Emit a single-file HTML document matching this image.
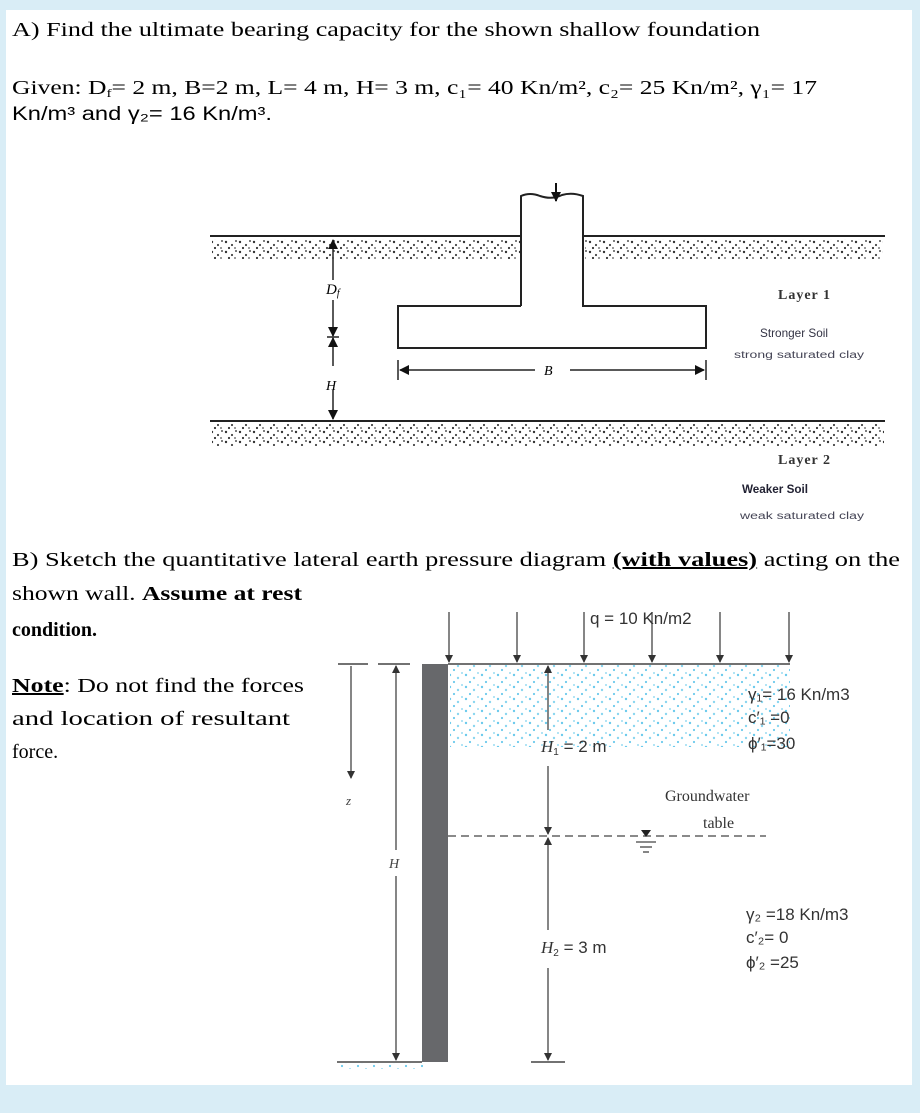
<!DOCTYPE html>
<html><head><meta charset="utf-8"><style>
html,body{margin:0;padding:0;background:#d9edf6;}
svg{display:block}
</style></head><body>
<svg width="920" height="1113" xmlns="http://www.w3.org/2000/svg" font-family="Liberation Serif, serif">
<defs>
<pattern id="st" width="14" height="10" patternUnits="userSpaceOnUse">
<circle cx="2" cy="2" r="1.2" fill="#333"/><circle cx="8" cy="5" r="1.1" fill="#444"/><circle cx="12" cy="1" r="1" fill="#555"/><circle cx="5" cy="8" r="1.1" fill="#333"/><circle cx="11" cy="8" r="0.9" fill="#555"/>
</pattern>
<pattern id="bl" width="16" height="12" patternUnits="userSpaceOnUse">
<circle cx="2" cy="3" r="1.2" fill="#6ccaec"/><circle cx="10" cy="6" r="1.2" fill="#8ad6f0"/><circle cx="6" cy="10" r="1.1" fill="#6ccaec"/><circle cx="14" cy="1" r="1" fill="#9adcf2"/>
</pattern>
<marker id="ah" markerWidth="8" markerHeight="8" refX="7" refY="4" orient="auto" markerUnits="userSpaceOnUse"><path d="M0,0 L8,4 L0,8 z" fill="#333"/></marker>
<marker id="ak" markerWidth="10" markerHeight="10" refX="9" refY="5" orient="auto" markerUnits="userSpaceOnUse"><path d="M0,0 L10,5 L0,10 z" fill="#111"/></marker>
</defs>
<rect x="6" y="10" width="906" height="1075" fill="#fff"/>
<!-- Text A -->
<text x="12" y="36" font-size="20" textLength="748" lengthAdjust="spacingAndGlyphs">A) Find the ultimate bearing capacity for the shown shallow foundation</text>
<text x="12" y="94" font-size="20" textLength="805" lengthAdjust="spacingAndGlyphs">Given: D<tspan font-size="12" dy="3">f</tspan><tspan dy="-3">= 2 m, B=2 m, L= 4 m, H= 3 m, c₁= 40 Kn/m², c₂= 25 Kn/m², γ₁= 17</tspan></text>
<text x="12" y="120" font-family="Liberation Sans, sans-serif" font-size="19" textLength="260" lengthAdjust="spacingAndGlyphs">Kn/m³ and  γ₂= 16 Kn/m³.</text>
<!-- foundation diagram -->
<g stroke="#222" stroke-width="2" fill="none">
<line x1="210" y1="236" x2="521" y2="236"/><line x1="583" y1="236" x2="885" y2="236"/>
<path d="M521,306 L521,196 Q530,192 540,196 Q552,200 562,195 Q572,192 583,196 L583,306 L706,306 L706,348 L398,348 L398,306 L521,306"/>
<line x1="210" y1="421" x2="885" y2="421"/>
</g>
<rect x="212" y="239" width="308" height="20" fill="url(#st)"/>
<rect x="585" y="239" width="298" height="20" fill="url(#st)"/>
<rect x="212" y="424" width="672" height="22" fill="url(#st)"/>
<line x1="556" y1="183" x2="556" y2="201" stroke="#111" stroke-width="2" marker-end="url(#ak)"/>
<g stroke="#222" stroke-width="1.5">
<line x1="333" y1="280" x2="333" y2="240" marker-end="url(#ak)"/>
<line x1="333" y1="300" x2="333" y2="336" marker-end="url(#ak)"/>
<line x1="327" y1="337" x2="339" y2="337"/>
<line x1="333" y1="366" x2="333" y2="338" marker-end="url(#ak)"/>
<line x1="333" y1="390" x2="333" y2="419" marker-end="url(#ak)"/>
<line x1="398" y1="360" x2="398" y2="380"/><line x1="706" y1="360" x2="706" y2="380"/>
<line x1="535" y1="370" x2="400" y2="370" marker-end="url(#ak)"/>
<line x1="570" y1="370" x2="704" y2="370" marker-end="url(#ak)"/>
</g>
<text x="326" y="294" font-size="15" font-style="italic">D<tspan font-size="10" dy="2">f</tspan></text>
<text x="326" y="390" font-size="14" font-style="italic">H</text>
<text x="544" y="375" font-size="14" font-style="italic">B</text>
<text x="778" y="299" font-size="14" font-weight="bold" fill="#333" letter-spacing="1">Layer 1</text>
<text x="760" y="337" font-family="Liberation Sans, sans-serif" font-size="12" fill="#334" textLength="68" lengthAdjust="spacingAndGlyphs">Stronger Soil</text>
<text x="734" y="358" font-family="Liberation Sans, sans-serif" font-size="10" fill="#445" textLength="130" lengthAdjust="spacingAndGlyphs">strong saturated clay</text>
<text x="778" y="464" font-size="14" font-weight="bold" fill="#333" letter-spacing="1">Layer 2</text>
<text x="742" y="493" font-family="Liberation Sans, sans-serif" font-size="12" font-weight="bold" fill="#223" textLength="66" lengthAdjust="spacingAndGlyphs">Weaker Soil</text>
<text x="740" y="519" font-family="Liberation Sans, sans-serif" font-size="10" fill="#445" textLength="124" lengthAdjust="spacingAndGlyphs">weak saturated clay</text>
<!-- Text B -->
<text x="12" y="566" font-size="20" textLength="888" lengthAdjust="spacingAndGlyphs">B) Sketch the quantitative lateral earth pressure diagram <tspan font-weight="bold" text-decoration="underline">(with values)</tspan> acting on the</text>
<text x="12" y="600" font-size="20" textLength="290" lengthAdjust="spacingAndGlyphs">shown wall. <tspan font-weight="bold">Assume at rest</tspan></text>
<text x="12" y="636" font-size="20" font-weight="bold">condition.</text>
<text x="12" y="692" font-size="20" textLength="292" lengthAdjust="spacingAndGlyphs"><tspan text-decoration="underline" font-weight="bold">Note</tspan>: Do not find the forces</text>
<text x="12" y="725" font-size="20" textLength="278" lengthAdjust="spacingAndGlyphs">and location of resultant</text>
<text x="12" y="758" font-size="20">force.</text>
<!-- wall diagram -->
<rect x="450" y="665" width="340" height="82" fill="url(#bl)"/>
<rect x="338" y="1063" width="85" height="6" fill="url(#bl)"/>
<rect x="422" y="664" width="26" height="398" fill="#67686b"/>
<g stroke="#444" stroke-width="1.5">
<line x1="448" y1="664" x2="790" y2="664"/>
<line x1="338" y1="664" x2="368" y2="664"/><line x1="378" y1="664" x2="410" y2="664"/>
<line x1="337" y1="1062" x2="422" y2="1062"/><line x1="531" y1="1062" x2="565" y2="1062"/>
</g>
<g stroke="#444" stroke-width="1.3" marker-end="url(#ah)">
<line x1="449" y1="612" x2="449" y2="662"/><line x1="517" y1="612" x2="517" y2="662"/>
<line x1="584" y1="612" x2="584" y2="662"/><line x1="652" y1="612" x2="652" y2="662"/>
<line x1="720" y1="612" x2="720" y2="662"/><line x1="789" y1="612" x2="789" y2="662"/>
<line x1="351" y1="666" x2="351" y2="778"/>
<line x1="396" y1="850" x2="396" y2="666"/><line x1="396" y1="876" x2="396" y2="1060"/>
<line x1="548" y1="730" x2="548" y2="666"/><line x1="548" y1="766" x2="548" y2="834"/>
<line x1="548" y1="930" x2="548" y2="838"/><line x1="548" y1="968" x2="548" y2="1060"/>
</g>
<line x1="448" y1="836" x2="766" y2="836" stroke="#444" stroke-width="1.3" stroke-dasharray="8,5"/>
<path d="M641,830 L651,830 L646,837 z" fill="#222"/>
<g stroke="#444" stroke-width="1.3"><line x1="636" y1="842" x2="656" y2="842"/><line x1="640" y1="847" x2="652" y2="847"/><line x1="643" y1="852" x2="649" y2="852"/></g>
<g font-family="Liberation Sans, sans-serif" font-size="17" fill="#333">
<text x="590" y="624">q = 10 Kn/m2</text>
<text x="541" y="752"><tspan font-style="italic" font-family="Liberation Serif, serif">H</tspan><tspan font-size="10" dy="3">1</tspan><tspan dy="-3"> = 2 m</tspan></text>
<text x="541" y="953"><tspan font-style="italic" font-family="Liberation Serif, serif">H</tspan><tspan font-size="10" dy="3">2</tspan><tspan dy="-3"> = 3 m</tspan></text>
<text x="748" y="700">γ₁= 16 Kn/m3</text>
<text x="748" y="723">c′₁ =0</text>
<text x="748" y="749">ϕ′₁=30</text>
<text x="746" y="920">γ₂ =18 Kn/m3</text>
<text x="746" y="943">c′₂= 0</text>
<text x="746" y="968">ϕ′₂ =25</text>
</g>
<text x="665" y="801" font-size="16" fill="#333">Groundwater</text>
<text x="703" y="828" font-size="16" fill="#333">table</text>
<text x="346" y="805" font-size="13" font-style="italic" fill="#444">z</text>
<text x="389" y="868" font-size="14" font-style="italic" fill="#444">H</text>
</svg>
</body></html>
